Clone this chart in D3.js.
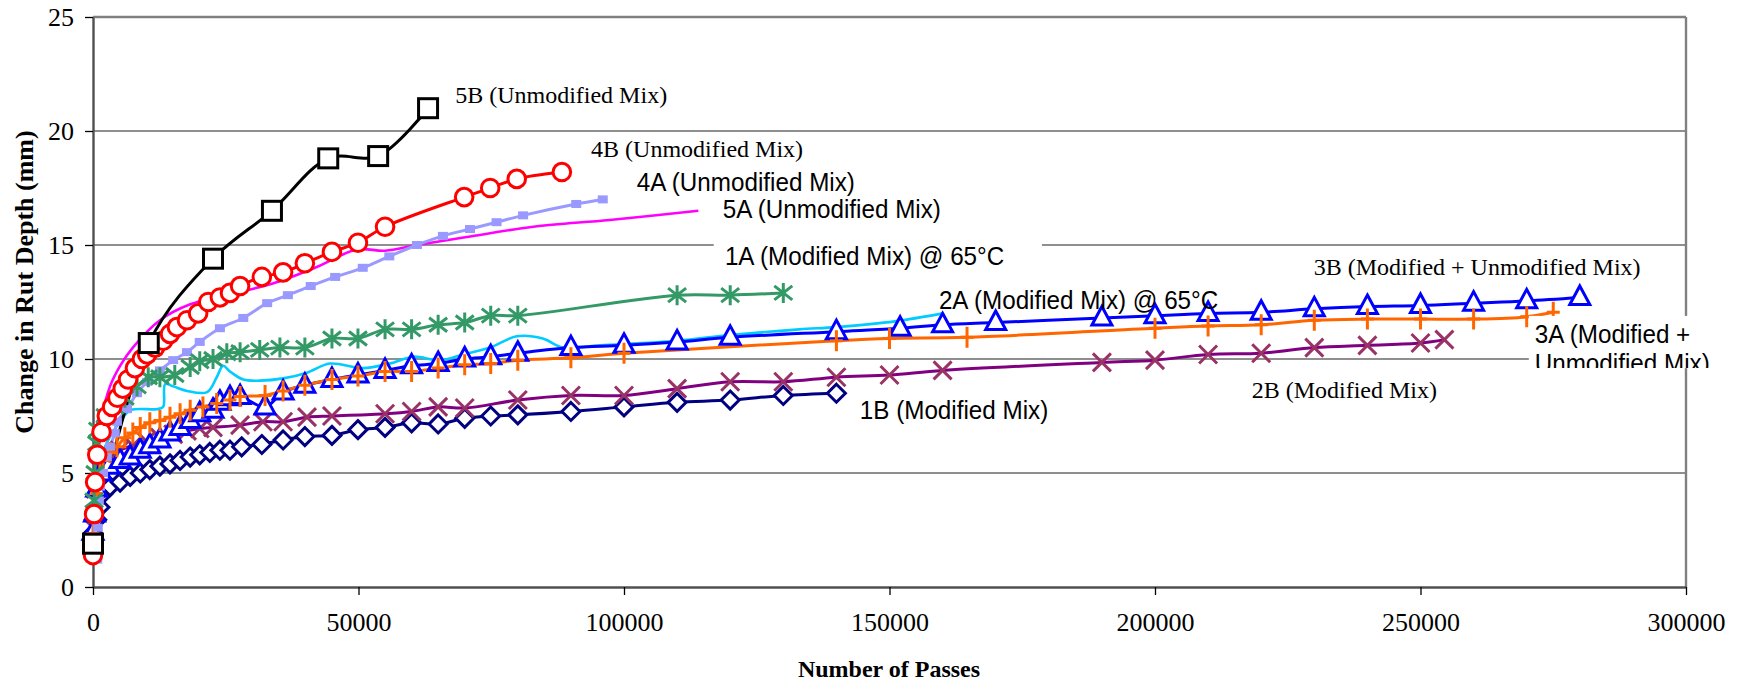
<!DOCTYPE html>
<meta charset="utf-8">
<style>
	body { margin: 0; background: #fff; }
	svg text { font-family: "Liberation Serif", "Times New Roman", serif; fill: #000; }
</style>
<svg width="1743" height="681"></svg>
<script src="https://cdn.jsdelivr.net/npm/d3@7/dist/d3.min.js"></script>
<script>
	// axis ticks
	var xTicks = [0, 50000, 100000, 150000, 200000, 250000, 300000];
	var yTicks = [0, 5, 10, 15, 20, 25];

	// [number of passes, change in rut depth (mm)]
	var rut5B = [[0,1.9],[10500,10.7],[22600,14.4],[33700,16.5],[44300,18.8],[53700,18.9],[63100,21.0]];
	var rut4B = [[0,1.4],[200,3.2],[400,4.6],[800,5.8],[1600,6.8],[2600,7.5],[3600,7.9],[4600,8.3],[5600,8.7],[6600,9.1],[7900,9.6],[9200,10.0],[10200,10.2],[11700,10.5],[13200,10.8],[14500,11.1],[15800,11.4],[17700,11.7],[19800,12.0],[21700,12.5],[23900,12.7],[25800,12.9],[27700,13.2],[31800,13.6],[35800,13.8],[39900,14.2],[45000,14.7],[49900,15.1],[55000,15.8],[69900,17.1],[74800,17.5],[79800,17.9],[88300,18.2]];
	var rut4A = [[800,1.2],[900,2.6],[1000,3.2],[1100,3.8],[1300,4.4],[1900,5.0],[2600,5.7],[3200,6.15],[4100,6.75],[4500,7.25],[6400,7.8],[8300,8.5],[10200,9.0],[12600,9.5],[15100,9.95],[17700,10.3],[20100,10.75],[23900,11.35],[28300,11.8],[32800,12.45],[36700,12.8],[41000,13.2],[45600,13.6],[50800,14.0],[55800,14.5],[61000,15.0],[65900,15.4],[71000,15.7],[76000,16.0],[81000,16.3],[91000,16.8],[96000,17.0]];
	var rut5A = [[0,2.4],[600,5.5],[1700,7.5],[3200,8.8],[5100,9.7],[7500,10.5],[12600,11.7],[18300,12.4],[25000,12.8],[33700,13.3],[41800,14.0],[49700,14.8],[55000,14.75],[61000,15.0],[70400,15.35],[82900,15.8],[97300,16.1],[114000,16.5]];
	var rut1A = [[0,1.85],[200,3.8],[400,5.0],[700,6.3],[900,6.9],[2300,7.5],[4100,7.9],[6000,8.3],[8300,8.8],[10400,9.2],[12600,9.2],[15400,9.3],[18300,9.65],[20100,9.9],[22600,10.0],[25200,10.25],[27700,10.3],[31400,10.4],[35200,10.5],[39900,10.5],[45000,10.9],[49900,10.9],[55000,11.3],[60000,11.3],[65000,11.5],[70000,11.6],[74900,11.9],[80000,11.9],[110000,12.8],[120000,12.8],[130000,12.9]];
	var rut2A = [[0,2.2],[1300,5.5],[3200,6.6],[5000,7.2],[7000,7.75],[12000,7.8],[13200,7.9],[13600,8.9],[15100,8.8],[17700,8.6],[21500,8.55],[23300,9.2],[24500,9.7],[25800,9.45],[28300,9.1],[31400,9.05],[35800,9.15],[40300,9.4],[44600,9.8],[50800,9.6],[55900,9.8],[60300,10.1],[65300,9.95],[69700,10.2],[74800,10.5],[79800,11.0],[84700,10.9],[88500,10.5],[95500,10.6],[110000,10.8],[120000,11.05],[133000,11.3],[140000,11.4],[151000,11.65],[160000,12.0]];
	var rut3B = [[0,2.4],[300,3.2],[700,4.3],[1500,5.0],[3000,5.3],[5100,5.55],[7000,5.7],[8900,6.0],[10700,6.2],[12600,6.45],[14500,6.75],[16400,7.0],[18300,7.3],[20100,7.6],[22600,7.75],[23900,8.1],[25800,8.3],[27700,8.35],[32400,7.9],[35800,8.55],[39900,8.85],[45000,9.1],[49900,9.3],[55000,9.5],[60000,9.7],[65000,9.8],[70000,10.0],[74900,10.1],[80000,10.25],[90000,10.5],[100000,10.6],[110000,10.75],[120000,10.95],[140000,11.2],[152000,11.35],[160000,11.5],[170000,11.6],[190000,11.8],[200000,11.9],[210000,12.0],[220000,12.05],[230000,12.2],[240000,12.3],[250000,12.35],[260000,12.45],[270000,12.55],[280000,12.7]];
	var rut3A = [[0,2.35],[700,4.1],[1300,5.0],[1900,5.55],[3200,5.9],[4500,6.15],[6000,6.55],[7500,6.75],[8900,7.0],[10700,7.2],[12600,7.3],[14500,7.45],[16400,7.6],[18300,7.75],[20700,7.9],[23300,8.05],[25800,8.2],[27700,8.35],[32400,8.4],[35800,8.6],[39900,8.85],[45000,9.1],[49900,9.25],[55000,9.45],[60000,9.45],[65000,9.6],[70000,9.75],[74900,9.8],[80000,9.95],[90000,10.05],[100000,10.25],[140000,10.8],[150000,10.9],[164600,10.95],[200000,11.35],[210000,11.45],[220000,11.5],[230000,11.7],[240000,11.75],[250000,11.75],[260000,11.75],[270000,11.85],[275000,12.05]];
	var rut2B = [[0,2.6],[500,4.3],[1000,5.2],[3000,5.7],[5000,6.0],[7500,6.2],[10000,6.4],[12600,6.55],[15100,6.7],[17700,6.85],[20100,6.95],[22600,7.0],[27700,7.1],[32000,7.25],[35800,7.25],[40300,7.45],[45000,7.5],[55000,7.6],[60000,7.7],[65000,7.9],[70000,7.85],[80000,8.2],[90000,8.4],[100000,8.4],[110000,8.7],[120000,9.0],[130000,9.0],[140000,9.2],[150000,9.3],[160000,9.5],[190000,9.85],[200000,9.95],[210000,10.2],[220000,10.25],[230000,10.5],[240000,10.6],[250000,10.7],[254500,10.85]];
	var rut1B = [[0,2.35],[700,2.95],[1300,3.5],[1900,4.1],[3200,4.4],[5100,4.6],[7000,4.85],[8900,5.0],[10700,5.15],[12600,5.3],[14500,5.4],[16400,5.55],[18300,5.7],[20100,5.8],[22000,5.9],[23900,6.0],[25800,6.0],[28000,6.15],[31800,6.25],[35800,6.45],[39900,6.6],[45000,6.65],[49900,6.9],[55000,7.0],[60000,7.2],[65000,7.15],[70000,7.4],[74900,7.5],[80000,7.55],[90000,7.7],[100000,7.9],[110000,8.1],[120000,8.2],[130000,8.4],[140000,8.5]];

	var svg = d3.select("svg"),
			width = +svg.attr("width"),
			height = +svg.attr("height");

	var x = d3.scaleLinear().domain([0, 300000]).range([93, 1686]);
	var y = d3.scaleLinear().domain([0, 25]).range([587, 17]);

	// marker shapes, drawn round (0,0)
	var markers = {
		square: function(g) { g.append("rect").attr("x", -9.5).attr("y", -9.5).attr("width", 19).attr("height", 19); },
		circle: function(g) { g.append("circle").attr("r", 8.8); },
		smallSquare: function(g) { g.append("rect").attr("x", -5).attr("y", -4).attr("width", 10).attr("height", 8); },
		asterisk: function(g) { g.append("path").attr("d", "M0,-10V10M-9,-7L9,7M-9,7L9,-7"); },
		triangle: function(g) { g.append("path").attr("d", "M0,-11.5L10,7H-10Z"); },
		plus: function(g) { g.append("path").attr("d", "M0,-10.5V10.5M-6.5,0H6.5"); },
		cross: function(g) { g.append("path").attr("d", "M-9,-9L9,9M-9,9L9,-9"); },
		diamond: function(g) { g.append("path").attr("d", "M0,-9L9,0L0,9L-9,0Z"); },
		none: null
	};

	// drawing order follows the picture (later ones on top)
	var series = [
		{data: rut5A, line: "#ff00ff", lw: 2.6, marker: "none"},
		{data: rut2A, line: "#00ccff", lw: 2.6, marker: "none"},
		{data: rut1B, line: "#000080", lw: 3, marker: "diamond", mc: "#000080", fill: "#fff"},
		{data: rut2B, line: "#800080", lw: 3, marker: "cross", mc: "#993366", fill: "none"},
		{data: rut3B, line: "#0000ff", lw: 3, marker: "triangle", mc: "#0000ff", fill: "#fff"},
		{data: rut3A, line: "#ff6600", lw: 3, marker: "plus", mc: "#ff6600", fill: "none"},
		{data: rut4A, line: "#9999ff", lw: 3, marker: "smallSquare", mc: "none", fill: "#9999ff"},
		{data: rut1A, line: "#339966", lw: 3, marker: "asterisk", mc: "#339966", fill: "none"},
		{data: rut4B, line: "#ff0000", lw: 3, marker: "circle", mc: "#ff0000", fill: "#fff"},
		{data: rut5B, line: "#000000", lw: 3, marker: "square", mc: "#000000", fill: "#fff"}
	];

	// gridlines
	svg.append("g").selectAll("line")
		.data(yTicks.filter(function(d) { return d > 0; }))
		.enter().append("line")
		.attr("x1", x(0)).attr("x2", x(300000))
		.attr("y1", y).attr("y2", y)
		.attr("stroke", function(d) { return d === 25 ? "#808080" : "#6a6a6a"; })
		.attr("stroke-width", function(d) { return d === 25 ? 2.4 : 1.5; });

	// right border of plot area
	svg.append("line")
		.attr("x1", x(300000)).attr("x2", x(300000))
		.attr("y1", y(25)).attr("y2", y(0))
		.attr("stroke", "#808080").attr("stroke-width", 2.4);

	var yAxis = svg.append("g")
		.attr("transform", "translate(" + x(0) + ",0)")
		.call(d3.axisLeft(y).tickValues(yTicks).tickSize(8).tickSizeOuter(0).tickPadding(11));
	var xAxis = svg.append("g")
		.attr("transform", "translate(0," + y(0) + ")")
		.call(d3.axisBottom(x).tickValues(xTicks).tickSize(8).tickSizeOuter(0).tickPadding(18).tickFormat(d3.format("d")));

	[xAxis, yAxis].forEach(function(a) {
		a.attr("font-family", null).attr("font-size", null);
		a.select(".domain").attr("stroke", "#505050").attr("stroke-width", 2.4);
		a.selectAll(".tick line").attr("stroke", "#000").attr("stroke-width", 1.3);
		a.selectAll(".tick text").style("font-size", "26px");
	});

	var line = d3.line()
		.x(function(d) { return x(d[0]); })
		.y(function(d) { return y(d[1]); })
		.curve(d3.curveCatmullRom.alpha(0.5));

	// all lines first, then all markers on top
	svg.append("g").selectAll("path")
		.data(series)
		.enter().append("path")
		.attr("fill", "none")
		.attr("stroke", function(s) { return s.line; })
		.attr("stroke-width", function(s) { return s.lw; })
		.attr("stroke-linejoin", "round")
		.attr("d", function(s) { return line(s.data); });

	series.forEach(function(s) {
		if (!markers[s.marker]) return;
		svg.append("g").selectAll("g")
			.data(s.data)
			.enter().append("g")
			.attr("transform", function(d) { return "translate(" + x(d[0]) + "," + y(d[1]) + ")"; })
			.attr("fill", s.fill)
			.attr("stroke", s.mc)
			.attr("stroke-width", 3)
			.each(function() { markers[s.marker](d3.select(this)); });
	});

	// white boxes behind two labels (data units)
	var boxes = [
		{p0: 116900, p1: 178700, v0: 15.31, v1: 13.73},
		{p0: 270400, p1: 304900, v0: 11.89, v1: 9.6}
	];
	svg.append("g").selectAll("rect")
		.data(boxes)
		.enter().append("rect")
		.attr("x", function(d) { return x(d.p0); })
		.attr("y", function(d) { return y(d.v0); })
		.attr("width", function(d) { return x(d.p1) - x(d.p0); })
		.attr("height", function(d) { return y(d.v1) - y(d.v0); })
		.attr("fill", "#fff");

	svg.append("clipPath").attr("id", "clip3A")
		.append("rect")
		.attr("x", x(boxes[1].p0)).attr("y", y(boxes[1].v0))
		.attr("width", x(boxes[1].p1) - x(boxes[1].p0))
		.attr("height", y(boxes[1].v1) - y(boxes[1].v0));

	// series labels, anchored at their left end, vertical middle
	var labels = [
		{text: "5B (Unmodified Mix)", p: 68200, v: 21.58, sans: false},
		{text: "4B (Unmodified Mix)", p: 93800, v: 19.21, sans: false},
		{text: "4A (Unmodified Mix)", p: 102400, v: 17.76, sans: true},
		{text: "5A (Unmodified Mix)", p: 118600, v: 16.58, sans: true},
		{text: "1A (Modified Mix) @ 65°C", p: 119000, v: 14.52, sans: true},
		{text: "2A (Modified Mix) @ 65°C", p: 159300, v: 12.59, sans: true},
		{text: "3B (Modified + Unmodified Mix)", p: 229900, v: 14.04, sans: false},
		{text: "3A (Modified +", p: 271500, v: 11.08, sans: true, clip: true},
		{text: "Unmodified Mix)", p: 271500, v: 9.8, sans: true, clip: true},
		{text: "2B (Modified Mix)", p: 218200, v: 8.64, sans: false},
		{text: "1B (Modified Mix)", p: 144400, v: 7.76, sans: true}
	];
	var lg = svg.append("g").selectAll("g")
		.data(labels)
		.enter().append("g")
		.attr("clip-path", function(d) { return d.clip ? "url(#clip3A)" : null; })
		.append("g")
		.attr("transform", function(d) {
			return "translate(" + x(d.p) + "," + y(d.v) + ") scale(" + (d.sans ? 0.97 : 1) + ",1)";
		});
	lg.append("text")
		.attr("dy", "0.35em")
		.style("font-family", function(d) { return d.sans ? "'Liberation Sans', Arial, sans-serif" : null; })
		.style("font-size", function(d) { return d.sans ? "25px" : "24px"; })
		.text(function(d) { return d.text; });

	// axis titles
	svg.append("text")
		.attr("x", 889).attr("y", 669).attr("dy", "0.35em")
		.attr("text-anchor", "middle")
		.style("font-size", "24px").style("font-weight", "bold")
		.text("Number of Passes");
	svg.append("text")
		.attr("transform", "translate(24,282) rotate(-90)")
		.attr("dy", "0.35em")
		.attr("text-anchor", "middle")
		.style("font-size", "26px").style("font-weight", "bold")
		.text("Change in Rut Depth (mm)");
</script>
